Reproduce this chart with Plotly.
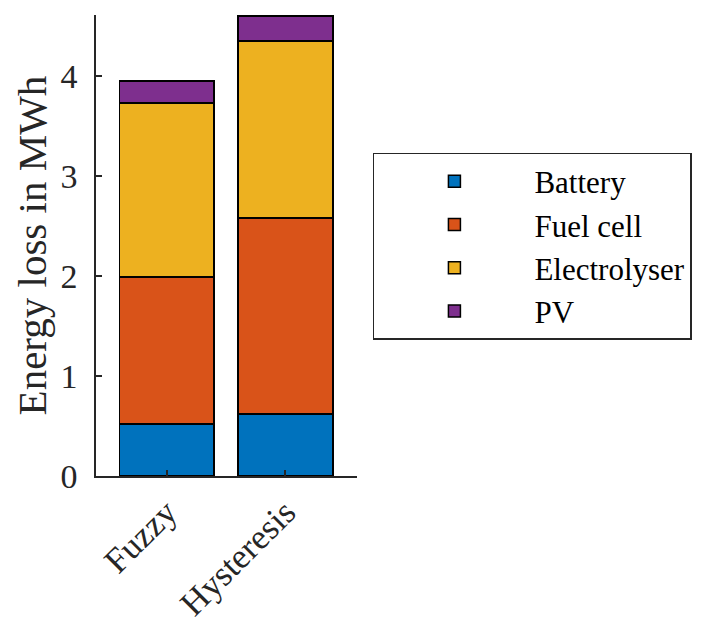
import plotly.graph_objects as go

categories = ["Fuzzy", "Hysteresis"]
series_names = ["Battery", "Fuel cell", "Electrolyser", "PV"]
battery = [0.52, 0.62]
fuel_cell = [1.47, 1.96]
electrolyser = [1.74, 1.77]
pv = [0.22, 0.25]
colors = ["#0072BD", "#D95319", "#EDB120", "#7E2F8E"]
y_ticks = [0, 1, 2, 3, 4]

FONT = "Liberation Serif"
TXT = "#262626"

fig = go.Figure()
for name, vals, col in zip(series_names, [battery, fuel_cell, electrolyser, pv], colors):
    fig.add_trace(go.Bar(
        x=categories, y=vals, name=name, width=0.8,
        marker=dict(color=col, line=dict(color="black", width=1.5)),
    ))

fig.update_layout(
    width=704, height=625,
    barmode="stack",
    paper_bgcolor="white", plot_bgcolor="white",
    margin=dict(l=96, r=347, t=15, b=149, autoexpand=False),
    font=dict(family=FONT, color=TXT, size=34),
    legend=dict(
        x=1.061, y=0.7007, xanchor="left", yanchor="top",
        bordercolor=TXT, borderwidth=1.5, bgcolor="white",
        font=dict(size=31, family=FONT, color="black"),
        itemwidth=150, tracegroupgap=0, traceorder="normal",
    ),
    showlegend=True,
)
fig.update_xaxes(
    type="category", range=[-0.596, 1.604], automargin=False,
    showline=True, linecolor=TXT, linewidth=1.5,
    ticks="inside", ticklen=6, tickcolor=TXT, tickwidth=1.5,
    tickangle=-45, showgrid=False, zeroline=False,
    tickfont=dict(size=35, family=FONT, color=TXT),
)
fig.update_yaxes(
    range=[0, 4.61], tickvals=y_ticks, automargin=False,
    showline=True, linecolor=TXT, linewidth=1.5,
    ticks="inside", ticklen=6, tickcolor=TXT, tickwidth=1.5,
    showgrid=False, zeroline=False,
    tickfont=dict(size=34, family=FONT, color=TXT),
    ticklabelstandoff=10,
    title=dict(text="Energy loss in MWh", font=dict(size=41, family=FONT, color=TXT), standoff=1),
)

fig.write_html("out.html")
